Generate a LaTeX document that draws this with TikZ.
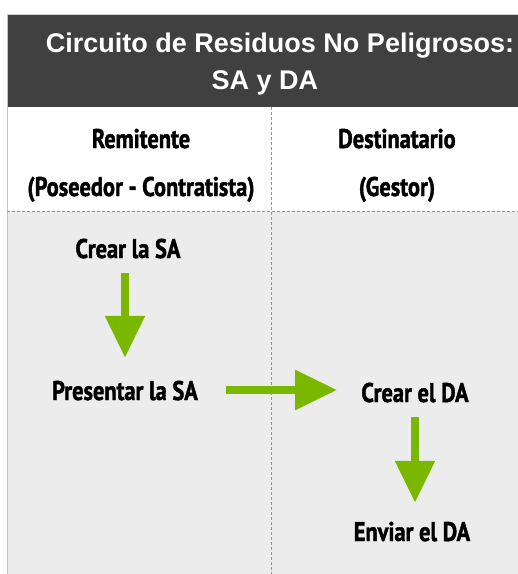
\documentclass[tikz,border=0pt]{standalone}
\usepackage{fontspec}
\setmainfont{PT Sans}[FakeStretch=0.83, BoldFeatures={FakeBold=1.5}]
\newfontfamily\titlefont{Liberation Sans}
\usepackage{tikz}
\usetikzlibrary{positioning,calc,arrows.meta}

\begin{document}
\begin{tikzpicture}[x=1pt,y=-1pt]
	\definecolor{headcolor}{RGB}{64,64,64}
	\definecolor{bodycolor}{RGB}{236,236,236}
	\definecolor{arrowcolor}{RGB}{122,184,0}
	\definecolor{linecolor}{RGB}{150,150,150}
	\tikzstyle{title}=[text=white, font=\titlefont\bfseries\fontsize{27}{30}\selectfont, inner sep=0pt, anchor=base]
	\tikzstyle{task}=[font=\bfseries\fontsize{27}{27}\selectfont, inner sep=0pt, text height=20pt, text depth=0pt]
	\tikzstyle{flow}=[draw=arrowcolor, line width=8.5pt, -{Triangle[length=42pt,width=38pt]}, preaction={draw=black, opacity=0.18, transform canvas={xshift=1.5pt,yshift=-2.5pt}}]
	\tikzstyle{divider}=[draw=linecolor, line width=0.8pt, dash pattern=on 2.5pt off 2.5pt]
	\useasboundingbox (0,0) rectangle (518,574);
	
	% Draw the header and the body background
	\fill[headcolor] (7,14) rectangle (518,107);
	\fill[bodycolor] (7,211) rectangle (518,574);
	\draw[gray!35, line width=1pt] (7,14) -- (518,14);
	\draw[gray!45, line width=1pt] (7,14) -- (7,574);
	\draw[divider] (271,107) -- (271,574);
	\draw[divider] (7,211) -- (518,211);
	
	% Draw the title
	\node[title] (title-1) at (280,52) {Circuito de Residuos No Peligrosos:};
	\node[title] (title-2) at (265,89) {SA y DA};
	
	% Draw the column headings
	\foreach \name/\x/\lbl/\sublbl in {rem/141/Remitente/(Poseedor - Contratista), dest/397/Destinatario/(Gestor)}
	{
	 \node[task] (\name-1) at (\x,138) {\lbl};
	 \node[task] (\name-2) at (\x,186) {\sublbl};
	}
	
	% Draw the steps
	\node[task] (crear-sa) at (128,248) {Crear la SA};
	\node[task] (pres-sa) at (125,390) {Presentar la SA};
	\node[task] (crear-da) at (415,392) {Crear el DA};
	\node[task] (env-da) at (412,531) {Enviar el DA};
	
	% Connect the steps
	\draw[flow, shorten <=15pt, shorten >=22pt] (pres-sa.north |- crear-sa.south) -- (pres-sa.north);
	\draw[flow, shorten <=28pt, shorten >=24pt] (pres-sa.east) -- (pres-sa.east -| crear-da.west);
	\draw[flow, shorten <=15pt, shorten >=18pt] (crear-da.south) -- (crear-da.south |- env-da.north);
\end{tikzpicture}
\end{document}
